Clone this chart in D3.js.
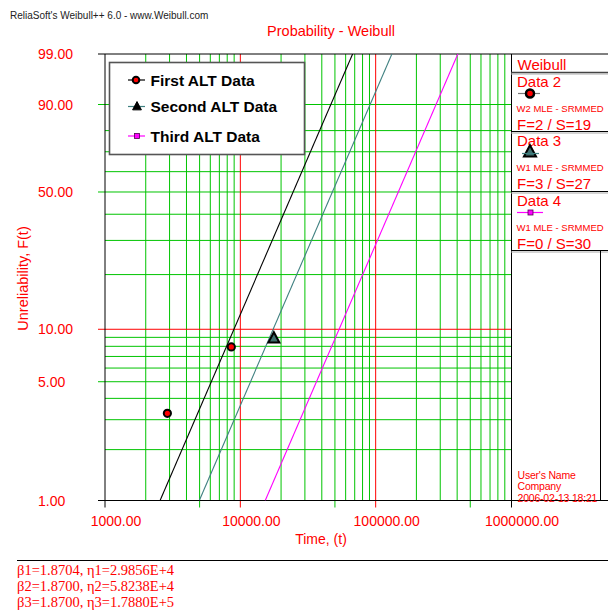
<!DOCTYPE html>
<html>
<head>
<meta charset="utf-8">
<script src="https://cdn.jsdelivr.net/npm/d3@7"></script>
<style>
  html, body { margin: 0; padding: 0; background: #fff; }
  svg { display: block; font-family: "Liberation Sans", Arial, sans-serif; }
</style>
</head>
<body>
<svg id="chart" width="608" height="613"></svg>
<script>
// ---------- data ----------
const xTickValues = [1000, 10000, 100000, 1000000];
const xTickLabels = ["1000.00", "10000.00", "100000.00", "1000000.00"];
const yTickValues = [1, 5, 10, 50, 90, 99];
const yTickLabels = ["1.00", "5.00", "10.00", "50.00", "90.00", "99.00"];
const xGrid = [2000,3000,4000,5000,6000,7000,8000,9000,
               20000,30000,40000,50000,60000,70000,80000,90000,
               200000,300000,400000,500000,600000,700000,800000,900000];
const xRed = [10000, 100000];
const yGrid = [2,3,4,5,6,7,8,9,20,30,40,50,60,70,80,90];
const yRed = [10];
const xMarkTicks = [5000, 50000, 500000];
const yMarkTicks = [5, 50, 90];

const seriesNames = ["First ALT Data", "Second ALT Data", "Third ALT Data"];
const firstPoints = [[2890, 3.27], [8577, 7.94]];   // [time, F%]
const secondPoints = [[17700, 8.88]];
const thirdPoints = [];
const betas = [1.8704, 1.8700, 1.8700];
const etas = [29856, 58238, 178800];
const paramLabels = ["β1=1.8704, η1=2.9856E+4", "β2=1.8700, η2=5.8238E+4", "β3=1.8700, η3=1.7880E+5"];

const panelData = ["Data 2", "Data 3", "Data 4"];
const panelMethod = ["W2 MLE - SRMMED", "W1 MLE - SRMMED", "W1 MLE - SRMMED"];
const panelFS = ["F=2 / S=19", "F=3 / S=27", "F=0 / S=30"];
const userInfo = ["User's Name", "Company", "2006-02-13 18:21"];

// ---------- setup ----------
const svg = d3.select("#chart");
const RED = "#ff0000", GREEN = "#00c400", TEAL = "#3f8080", MAG = "#ff00ff";
const wb = F => Math.log(-Math.log(1 - F / 100));
const x = d3.scaleLog().domain([1000, 1000000]).range([105, 511]);
const y = d3.scaleLinear().domain([wb(1), wb(99)]).range([500.5, 54]);
const L = 105, R = 511, T = 54, B = 500.5;

// header + title
svg.append("text").attr("x", 10).attr("y", 18.5).attr("font-size", 10).attr("fill", "#222")
  .text("ReliaSoft's Weibull++ 6.0 - www.Weibull.com");
svg.append("text").attr("x", 331).attr("y", 36).attr("text-anchor", "middle")
  .attr("font-size", 14.5).attr("fill", RED).text("Probability - Weibull");

// grid
const g = svg.append("g");
g.selectAll(".vg").data(xGrid).join("line")
  .attr("x1", d => x(d)).attr("x2", d => x(d)).attr("y1", T).attr("y2", B)
  .attr("stroke", GREEN).attr("stroke-width", 1);
g.selectAll(".hg").data(yGrid).join("line")
  .attr("x1", L).attr("x2", R).attr("y1", d => y(wb(d))).attr("y2", d => y(wb(d)))
  .attr("stroke", GREEN).attr("stroke-width", 1);
g.selectAll(".vr").data(xRed).join("line")
  .attr("x1", d => x(d)).attr("x2", d => x(d)).attr("y1", T).attr("y2", B + 7)
  .attr("stroke", RED).attr("stroke-width", 1);
g.selectAll(".hr").data(yRed).join("line")
  .attr("x1", L - 7).attr("x2", R).attr("y1", d => y(wb(d))).attr("y2", d => y(wb(d)))
  .attr("stroke", RED).attr("stroke-width", 1);
g.selectAll(".xt").data(xMarkTicks).join("line")
  .attr("x1", d => x(d)).attr("x2", d => x(d)).attr("y1", B).attr("y2", B + 7)
  .attr("stroke", GREEN);
g.selectAll(".yt").data(yMarkTicks).join("line")
  .attr("x1", L - 7).attr("x2", L).attr("y1", d => y(wb(d))).attr("y2", d => y(wb(d)))
  .attr("stroke", GREEN);

// axes frame
const frame = svg.append("g").attr("stroke", "#000").attr("stroke-width", 1);
frame.append("line").attr("x1", 98).attr("x2", 608).attr("y1", T).attr("y2", T);
frame.append("line").attr("x1", 98).attr("x2", 608).attr("y1", B).attr("y2", B);
frame.append("line").attr("x1", L).attr("x2", L).attr("y1", T).attr("y2", B + 7);
frame.append("line").attr("x1", R + 0.5).attr("x2", R + 0.5).attr("y1", T).attr("y2", B + 7);

// tick labels
svg.selectAll(".xl").data(xTickValues).join("text")
  .attr("x", d => x(d) + 11).attr("y", 525.5).attr("text-anchor", "middle")
  .attr("font-size", 14).attr("fill", RED).text((d, i) => xTickLabels[i]);
svg.selectAll(".yl").data(yTickValues).join("text")
  .attr("x", 38).attr("y", d => y(wb(d)) + 5).attr("font-size", 14).attr("fill", RED)
  .text((d, i) => yTickLabels[i]);

// axis titles
svg.append("text").attr("x", 321).attr("y", 543.5).attr("text-anchor", "middle")
  .attr("font-size", 14).attr("fill", RED).text("Time, (t)");
svg.append("text").attr("transform", "translate(28,278.5) rotate(-90)").attr("text-anchor", "middle")
  .attr("font-size", 14.5).attr("fill", RED).text("Unreliability, F(t)");

// fitted lines from the Weibull parameters
const lineColors = ["#000000", TEAL, MAG];
const fitLines = betas.map((b, i) => {
  const tAt = F => Math.exp(Math.log(etas[i]) + wb(F) / b);
  return [[tAt(1), 1], [tAt(99), 99]];
});
const lineGen = d3.line().x(d => x(d[0])).y(d => y(wb(d[1])));
svg.append("clipPath").attr("id", "clip").append("rect")
  .attr("x", L).attr("y", T).attr("width", R - L).attr("height", B - T);
svg.append("g").attr("clip-path", "url(#clip)").selectAll("path").data(fitLines).join("path")
  .attr("d", lineGen).attr("fill", "none")
  .attr("stroke", (d, i) => lineColors[i]).attr("stroke-width", 1.1);

// points
const triPath = s => `M0,${-s * 0.62}L${s * 0.55},${s * 0.42}L${-s * 0.55},${s * 0.42}Z`;
svg.selectAll(".p1").data(firstPoints).join("circle")
  .attr("cx", d => x(d[0])).attr("cy", d => y(wb(d[1]))).attr("r", 3.6)
  .attr("fill", RED).attr("stroke", "#000").attr("stroke-width", 2);
svg.selectAll(".p2").data(secondPoints).join("path")
  .attr("transform", d => `translate(${x(d[0])},${y(wb(d[1]))})`)
  .attr("d", triPath(10)).attr("fill", "#3e6e6e").attr("stroke", "#000").attr("stroke-width", 2);
svg.selectAll(".p3").data(thirdPoints).join("rect")
  .attr("x", d => x(d[0]) - 2).attr("y", d => y(wb(d[1])) - 2).attr("width", 4).attr("height", 4)
  .attr("fill", MAG);

// legend
const lg = svg.append("g");
lg.append("rect").attr("x", 109.5).attr("y", 62.5).attr("width", 195).attr("height", 92)
  .attr("fill", "#fff").attr("stroke", "#555").attr("stroke-width", 1.6);
const legY = [80, 106.5, 136];
seriesNames.forEach((name, i) => {
  const cy = legY[i];
  lg.append("line").attr("x1", 128).attr("x2", 145).attr("y1", cy).attr("y2", cy)
    .attr("stroke", lineColors[i]).attr("stroke-width", 1.2);
  if (i === 0) {
    lg.append("circle").attr("cx", 136).attr("cy", cy).attr("r", 3.3)
      .attr("fill", RED).attr("stroke", "#000").attr("stroke-width", 2);
  } else if (i === 1) {
    lg.append("path").attr("transform", `translate(137,${cy})`).attr("d", triPath(8))
      .attr("fill", "#000").attr("stroke", "#000").attr("stroke-width", 1);
  } else {
    lg.append("rect").attr("x", 134.5).attr("y", cy - 2.5).attr("width", 5).attr("height", 5)
      .attr("fill", MAG).attr("stroke", "#500050").attr("stroke-width", 0.8);
  }
  lg.append("text").attr("x", 150.5).attr("y", cy + 5.5).attr("font-size", 15.5)
    .attr("font-weight", "bold").attr("fill", "#000").text(name);
});

// right panel
const rp = svg.append("g");
const sepY = [72.5, 131.5, 191.5, 250.5];
sepY.forEach((sy, i) => {
  rp.append("line").attr("x1", R).attr("x2", 608).attr("y1", sy).attr("y2", sy)
    .attr("stroke", i === 0 ? "#444" : "#000").attr("stroke-width", i === 0 ? 1.5 : 1);
  rp.append("line").attr("x1", R).attr("x2", 608).attr("y1", sy + 1.5).attr("y2", sy + 1.5)
    .attr("stroke", "#aaa").attr("stroke-width", 1);
});
rp.append("line").attr("x1", 600.5).attr("x2", 600.5).attr("y1", 250.5).attr("y2", B)
  .attr("stroke", "#000");
rp.append("text").attr("x", 517.5).attr("y", 69.5).attr("font-size", 15).attr("fill", RED).text("Weibull");
const blockTop = [72.5, 131.5, 191.5];
panelData.forEach((name, i) => {
  const t0 = blockTop[i];
  rp.append("text").attr("x", 517).attr("y", t0 + 14).attr("font-size", 15).attr("fill", RED).text(name);
  const my = t0 + 21;
  if (i === 0) {
    rp.append("line").attr("x1", 518).attr("x2", 540).attr("y1", my).attr("y2", my).attr("stroke", "#777").attr("stroke-width", 1.2);
    rp.append("circle").attr("cx", 530).attr("cy", my).attr("r", 4).attr("fill", RED).attr("stroke", "#000").attr("stroke-width", 2.5);
  } else if (i === 1) {
    rp.append("path").attr("transform", `translate(530,${my - 0.5})`).attr("d", triPath(11))
      .attr("fill", "#3e6e6e").attr("stroke", "#000").attr("stroke-width", 2);
    rp.append("line").attr("x1", 522).attr("x2", 539).attr("y1", my + 1).attr("y2", my + 1).attr("stroke", TEAL).attr("stroke-width", 1.2);
  } else {
    rp.append("line").attr("x1", 517).attr("x2", 543).attr("y1", my).attr("y2", my).attr("stroke", MAG).attr("stroke-width", 1.2);
    rp.append("rect").attr("x", 528).attr("y", my - 2.5).attr("width", 5).attr("height", 5)
      .attr("fill", MAG).attr("stroke", "#500050").attr("stroke-width", 0.8);
  }
  rp.append("text").attr("x", 516.5).attr("y", t0 + 39).attr("font-size", 9.5)
    .attr("fill", RED).text(panelMethod[i]);
  rp.append("text").attr("x", 517).attr("y", t0 + 57.5).attr("font-size", 15).attr("fill", RED).text(panelFS[i]);
});
userInfo.forEach((s, i) => {
  rp.append("text").attr("x", 517.5).attr("y", 479 + i * 11.3).attr("font-size", 10.5)
    .attr("letter-spacing", -0.2).attr("fill", RED).text(s);
});

// bottom parameters
svg.append("line").attr("x1", 17).attr("x2", 608).attr("y1", 560.5).attr("y2", 560.5).attr("stroke", "#000");
svg.selectAll(".pl").data(paramLabels).join("text")
  .attr("x", 17).attr("y", (d, i) => 574.5 + i * 16)
  .style("font-family", "'Liberation Serif', 'Times New Roman', serif")
  .attr("font-size", 14.5).attr("fill", RED).text(d => d);
</script>
</body>
</html>
